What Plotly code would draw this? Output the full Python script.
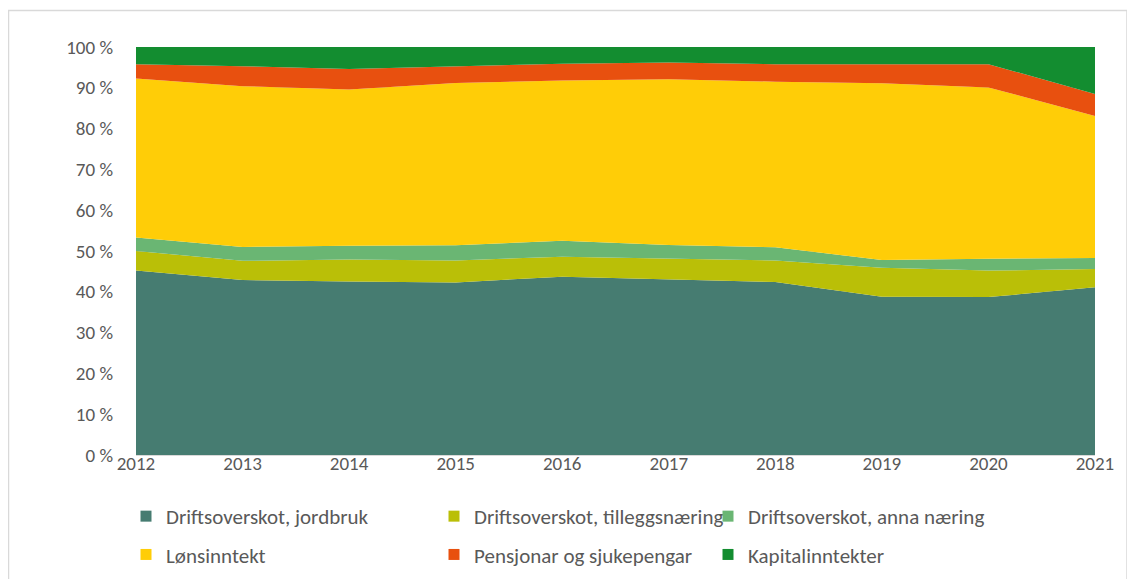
import plotly.graph_objects as go

years = [2012, 2013, 2014, 2015, 2016, 2017, 2018, 2019, 2020, 2021]
jordbruk = [45.2, 42.9, 42.5, 42.3, 43.7, 43.0, 42.4, 38.8, 38.7, 41.1]
tilleggsnaering = [4.8, 4.7, 5.4, 5.4, 4.9, 5.2, 5.3, 7.1, 6.5, 4.5]
anna_naering = [3.3, 3.4, 3.4, 3.7, 3.9, 3.3, 3.2, 1.9, 2.9, 2.7]
lonsinntekt = [39.0, 39.4, 38.3, 39.8, 39.3, 40.6, 40.6, 43.3, 42.0, 34.8]
pensjon = [3.5, 4.9, 5.0, 4.0, 4.1, 4.1, 4.3, 4.7, 5.7, 5.4]
kapital = [4.2, 4.7, 5.4, 4.8, 4.1, 3.8, 4.2, 4.2, 4.2, 11.5]

names = ["Driftsoverskot, jordbruk", "Driftsoverskot, tilleggsnæring",
         "Driftsoverskot, anna næring", "Lønsinntekt",
         "Pensjonar og sjukepengar", "Kapitalinntekter"]
series = [jordbruk, tilleggsnaering, anna_naering, lonsinntekt, pensjon, kapital]
colors = ["#467C71", "#BABF07", "#6AB673", "#FFCD07", "#E8500F", "#138D30"]
legend_ids = ["legend", "legend2", "legend3", "legend", "legend2", "legend3"]
y_ticks = list(range(0, 101, 10))
y_labels = ["%d %%" % v for v in y_ticks]
x_labels = [str(y) for y in years]

FONT = "Carlito, Calibri, Lato, sans-serif"
GREY = "#595959"
TICK_SIZE = 19
LEG_SIZE = 21

fig = go.Figure()
for name, vals, col in zip(names, series, colors):
    fig.add_trace(go.Scatter(
        x=years, y=vals, name=name, mode="lines", stackgroup="one",
        groupnorm="percent", line=dict(width=0, color=col), fillcolor=col,
        showlegend=False, hoverinfo="x+y+name"))

for i, (name, col, lid) in enumerate(zip(names, colors, legend_ids)):
    fig.add_trace(go.Scatter(
        x=[None], y=[None], mode="markers", name=name,
        marker=dict(symbol="square", size=11, color=col),
        legend=lid, legendgroup="g%d" % i, showlegend=True))

# page has an 8px body margin; figure sized to fit the window
OFF = 8
W, H = 1135 - OFF, 579 - OFF
PL, PT, PW, PH = 136, 47, 959, 408          # plot area in page pixels
L, T = PL - OFF, PT - OFF
R, B = W - L - PW, H - T - PH

def px_x(p):
    return (p - PL) / PW

def px_y(p):
    return (PT + PH - p) / PH

leg_common = dict(orientation="v", yanchor="top", xanchor="left",
                  font=dict(family=FONT, size=LEG_SIZE, color=GREY),
                  bgcolor="rgba(0,0,0,0)", traceorder="grouped",
                  tracegroupgap=8, itemwidth=30)

fig.update_layout(
    width=W, height=H,
    margin=dict(l=L, r=R, t=T, b=B, autoexpand=False),
    plot_bgcolor="white", paper_bgcolor="white",
    font=dict(family=FONT, size=TICK_SIZE, color=GREY),
    xaxis=dict(range=[2012, 2021], tickmode="array", tickvals=years,
               ticktext=x_labels, showgrid=False,
               showline=True, linecolor="#D9D9D9", linewidth=1,
               ticks="", ticklabelstandoff=-9,
               tickfont=dict(family=FONT, size=TICK_SIZE, color=GREY),
               zeroline=False),
    yaxis=dict(range=[0, 100], tickmode="array", tickvals=y_ticks,
               ticktext=y_labels,
               showgrid=True, gridcolor="#D9D9D9", showline=False,
               zeroline=False, ticks="", ticklabelstandoff=22,
               tickfont=dict(family=FONT, size=TICK_SIZE, color=GREY)),
    legend=dict(x=px_x(126), y=px_y(496), **leg_common),
    legend2=dict(x=px_x(434), y=px_y(496), **leg_common),
    legend3=dict(x=px_x(708), y=px_y(496), **leg_common),
    shapes=[dict(type="rect", xref="paper", yref="paper",
                 x0=px_x(8.5), x1=px_x(1127), y0=px_y(590), y1=px_y(10.5),
                 line=dict(color="#D9D9D9", width=1.5), fillcolor="rgba(0,0,0,0)",
                 layer="below")],
    showlegend=True,
)

fig.write_html("out.html")
